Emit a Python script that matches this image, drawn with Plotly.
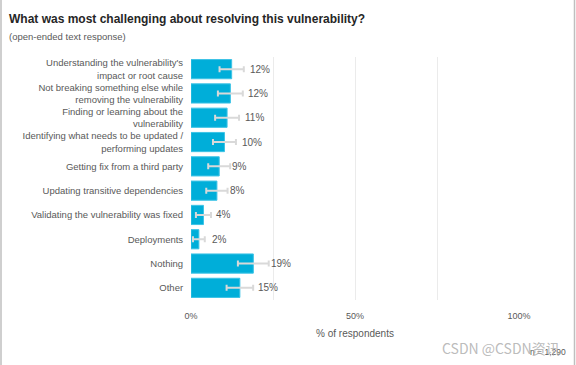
import plotly.graph_objects as go

categories = [
    "Understanding the vulnerability's<br>impact or root cause",
    "Not breaking something else while<br>removing the vulnerability",
    "Finding or learning about the<br>vulnerability",
    "Identifying what needs to be updated /<br>performing updates",
    "Getting fix from a third party",
    "Updating transitive dependencies",
    "Validating the vulnerability was fixed",
    "Deployments",
    "Nothing",
    "Other",
]
values = [12.4, 12.0, 11.0, 10.2, 8.6, 7.9, 3.8, 2.4, 19.0, 14.9]
errors = [3.7, 3.8, 3.65, 3.5, 3.35, 3.25, 2.3, 1.8, 4.7, 4.05]
labels = ["12%", "12%", "11%", "10%", "9%", "8%", "4%", "2%", "19%", "15%"]
x_ticks = [0, 50, 100]
x_tick_text = ["0%", "50%", "100%"]

GRAY = "#595959"
FONT = "Liberation Sans, Arial, sans-serif"

fig = go.Figure()
fig.add_trace(go.Bar(
    x=values, y=categories, orientation="h",
    marker=dict(color="#00AED9", line=dict(color="#3dc3e6", width=1)),
    width=0.79,
    error_x=dict(type="data", array=errors, color="#d9d9d9", thickness=2, width=3),
    hoverinfo="skip",
))

for cat, v, lab in zip(categories, values, labels):
    fig.add_annotation(
        x=v, y=cat, text=lab, showarrow=False, xanchor="left",
        xshift=11 + 5 * (len(lab) - 2),
        font=dict(family=FONT, size=10, color=GRAY),
    )

L, R, T, B = 191, 57, 57, 65
W, H = 576, 365
pw, ph = W - L - R, H - T - B

def px_x(p):
    return (p - L) / pw

def px_y(p):
    return 1 - (p - T) / ph

# outer border (left and right)
for xp in (1, 574.5):
    fig.add_shape(type="line", xref="paper", yref="paper",
                  x0=px_x(xp), x1=px_x(xp), y0=px_y(0), y1=px_y(H),
                  line=dict(color="#bfbfbf", width=1.5))

fig.add_annotation(xref="paper", yref="paper", x=px_x(7), y=px_y(19),
                   xanchor="left", yanchor="middle", showarrow=False,
                   text="<b>What was most challenging about resolving this vulnerability?</b>",
                   font=dict(family=FONT, size=12, color="#262626"))
fig.add_annotation(xref="paper", yref="paper", x=px_x(7), y=px_y(37),
                   xanchor="left", yanchor="middle", showarrow=False,
                   text="(open-ended text response)",
                   font=dict(family=FONT, size=9.5, color=GRAY))
fig.add_annotation(xref="paper", yref="paper", x=px_x(568), y=px_y(352),
                   xanchor="right", yanchor="middle", showarrow=False,
                   text="n = 1,290",
                   font=dict(family=FONT, size=8.5, color=GRAY))
fig.add_annotation(xref="paper", yref="paper", x=px_x(562), y=px_y(348),
                   xanchor="right", yanchor="middle", showarrow=False,
                   text="CSDN @CSDN资讯",
                   font=dict(family="Noto Sans CJK SC, sans-serif", size=14, color="rgba(170,170,170,0.8)"))

fig.update_layout(
    width=W, height=H,
    margin=dict(l=L, r=R, t=T, b=B),
    paper_bgcolor="white", plot_bgcolor="white",
    showlegend=False,
    bargap=0.21,
    font=dict(family=FONT, size=9, color=GRAY),
)
fig.update_xaxes(
    range=[0, 100], tickvals=x_ticks, ticktext=x_tick_text,
    showgrid=True, gridcolor="#ebebeb", gridwidth=1,
    minor=dict(dtick=25, showgrid=True, gridcolor="#ebebeb", gridwidth=1),
    zeroline=False, showline=False,
    ticks="", ticklabelstandoff=9,
    tickfont=dict(family=FONT, size=9, color=GRAY),
    title=dict(text="% of respondents", font=dict(family=FONT, size=10, color=GRAY), standoff=9),
    fixedrange=True,
)
fig.update_yaxes(
    categoryorder="array", categoryarray=categories, autorange="reversed",
    showgrid=False, zeroline=False, showline=False,
    ticks="outside", ticklen=5, tickcolor="rgba(0,0,0,0)",
    tickfont=dict(family=FONT, size=9.5, color=GRAY),
    fixedrange=True,
)

fig.write_html("out.html", config={"displayModeBar": False},
               post_script="document.body.style.margin='0px';document.body.style.overflow='hidden';")
